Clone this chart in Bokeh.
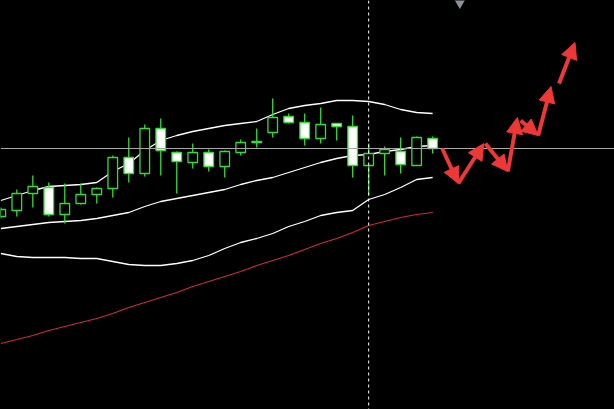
from bokeh.plotting import figure
from bokeh.models import ColumnDataSource, Range1d, Arrow, NormalHead, Span, GlobalInlineStyleSheet
from bokeh.embed import file_html
from bokeh.resources import INLINE

# Candles (index 0 = leftmost bar)
opens = [1.1193, 1.1199, 1.1216, 1.1222, 1.1195, 1.1206, 1.1215, 1.1221, 1.1252, 1.1236,
         1.1281, 1.1257, 1.1247, 1.1257, 1.1243, 1.1257, 1.1267, 1.1277, 1.1293, 1.1287,
         1.1271, 1.1286, 1.1283, 1.1244, 1.1256, 1.1258, 1.1244, 1.1271]
highs = [1.1202, 1.1220, 1.1234, 1.1227, 1.1226, 1.1226, 1.1222, 1.1254, 1.1272, 1.1285,
         1.1291, 1.1258, 1.1266, 1.1260, 1.1259, 1.1270, 1.1281, 1.1311, 1.1296, 1.1296,
         1.1302, 1.1286, 1.1294, 1.1266, 1.1263, 1.1272, 1.1273, 1.1273]
lows = [1.1191, 1.1193, 1.1202, 1.1193, 1.1186, 1.1205, 1.1206, 1.1212, 1.1227, 1.1233,
        1.1234, 1.1216, 1.1241, 1.1238, 1.1232, 1.1254, 1.1262, 1.1272, 1.1286, 1.1264,
        1.1266, 1.1269, 1.1232, 1.1214, 1.1234, 1.1236, 1.1244, 1.1256]
closes = [1.1200, 1.1216, 1.1223, 1.1195, 1.1206, 1.1215, 1.1221, 1.1252, 1.1236, 1.1281,
          1.1259, 1.1248, 1.1257, 1.1243, 1.1258, 1.1267, 1.1268, 1.1292, 1.1287, 1.1271,
          1.1285, 1.1283, 1.1244, 1.1256, 1.1260, 1.1245, 1.1272, 1.1261]

# Bollinger bands and slow moving average
bb_upper = [1.1209, 1.1214, 1.1219, 1.1223, 1.1224, 1.1225, 1.1227, 1.1238, 1.1246, 1.1259,
            1.1269, 1.1274, 1.1278, 1.1281, 1.1284, 1.1286, 1.1288, 1.1295, 1.1301, 1.1304,
            1.1306, 1.1309, 1.1309, 1.1308, 1.1305, 1.1300, 1.1297, 1.1296]
bb_mid = [1.1181, 1.1183, 1.1185, 1.1187, 1.1188, 1.1189, 1.1191, 1.1194, 1.1197, 1.1203,
          1.1208, 1.1211, 1.1214, 1.1217, 1.1220, 1.1225, 1.1229, 1.1232, 1.1237, 1.1242,
          1.1247, 1.1251, 1.1254, 1.1255, 1.1258, 1.1260, 1.1263, 1.1264]
bb_lower = [1.1156, 1.1153, 1.1152, 1.1152, 1.1152, 1.1151, 1.1151, 1.1148, 1.1145, 1.1144,
            1.1144, 1.1146, 1.1149, 1.1154, 1.1161, 1.1167, 1.1171, 1.1176, 1.1183, 1.1188,
            1.1194, 1.1197, 1.1199, 1.1210, 1.1215, 1.1222, 1.1230, 1.1232]
ma_slow = [1.1066, 1.1070, 1.1074, 1.1079, 1.1083, 1.1087, 1.1091, 1.1096, 1.1102, 1.1107,
           1.1112, 1.1117, 1.1123, 1.1128, 1.1133, 1.1138, 1.1144, 1.1149, 1.1154, 1.1160,
           1.1166, 1.1171, 1.1177, 1.1184, 1.1188, 1.1192, 1.1195, 1.1197]

# Forecast zigzag arrows
arrow_x0 = [27.6, 28.6, 30.3, 31.7, 32.5, 33.6, 34.9]
arrow_y0 = [1.1261, 1.1226, 1.1266, 1.1238, 1.1289, 1.1274, 1.1326]
arrow_x1 = [28.6, 30.2, 31.7, 32.3, 33.6, 34.4, 35.9]
arrow_y1 = [1.1226, 1.1266, 1.1238, 1.1292, 1.1274, 1.1323, 1.1367]

bid_price = 1.1261
cursor_bar = 23
marker_bar = 28.7

idx = list(range(len(opens)))
green = "#33dd33"
candles = ColumnDataSource(dict(
    x=idx, top=[max(o, c) for o, c in zip(opens, closes)],
    bottom=[min(o, c) for o, c in zip(opens, closes)],
    high=highs, low=lows,
    fill=["white" if c < o else "black" for o, c in zip(opens, closes)],
))

p = figure(width=614, height=409, output_backend="svg", toolbar_location=None,
           x_range=Range1d(-0.02, 38.37), y_range=Range1d(1.1000, 1.1409),
           min_border=0, background_fill_color="black", border_fill_color="black")
p.outline_line_color = None
p.axis.visible = False
p.grid.grid_line_color = None
p.stylesheets = [GlobalInlineStyleSheet(css="body { background: #000; overflow: hidden; }")]

# bid line and cursor
p.add_layout(Span(location=bid_price, dimension="width", line_color="#a8a8a8", line_width=1))
p.add_layout(Span(location=cursor_bar, dimension="height", line_color="white",
                  line_width=1, line_dash="3 3"))

p.line(idx, ma_slow, line_color="#cc2a36", line_width=1.2)
for band in (bb_upper, bb_mid, bb_lower):
    p.line(idx, band, line_color="white", line_width=1.3)

p.segment(x0="x", y0="high", x1="x", y1="low", source=candles, line_color=green, line_width=1.3)
p.vbar(x="x", top="top", bottom="bottom", width=0.6, source=candles,
       fill_color="fill", line_color=green, line_width=1.3)

# shift marker at the top edge
p.scatter([marker_bar], [1.1408], marker="inverted_triangle", size=13,
          fill_color="#8c919b", line_color=None)

red = "#ee3838"
arrows = ColumnDataSource(dict(x0=arrow_x0, y0=arrow_y0, x1=arrow_x1, y1=arrow_y1))
p.add_layout(Arrow(end=NormalHead(size=16, fill_color=red, line_color=red),
                   x_start="x0", y_start="y0", x_end="x1", y_end="y1", source=arrows,
                   line_color=red, line_width=4))

open("out.html", "w").write(file_html(p, INLINE))
